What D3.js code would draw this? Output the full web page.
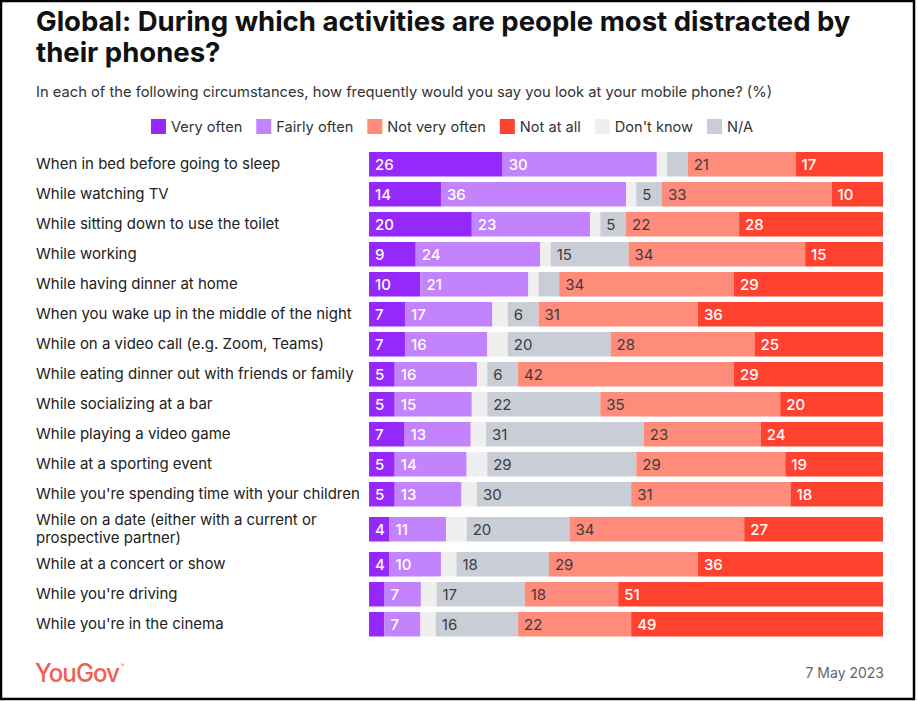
<!DOCTYPE html>
<html>
<head>
<meta charset="utf-8">
<script src="https://cdn.jsdelivr.net/npm/d3@7"></script>
<style>
  html, body { margin: 0; padding: 0; background: #fff; }
  svg { display: block; }
  text { font-family: Inter, "Noto Sans", sans-serif; }
</style>
</head>
<body>
<svg id="chart" width="918" height="701"></svg>
<script>
// ---------------- DATA ----------------
const categories = [
  "When in bed before going to sleep",
  "While watching TV",
  "While sitting down to use the toilet",
  "While working",
  "While having dinner at home",
  "When you wake up in the middle of the night",
  "While on a video call (e.g. Zoom, Teams)",
  "While eating dinner out with friends or family",
  "While socializing at a bar",
  "While playing a video game",
  "While at a sporting event",
  "While you're spending time with your children",
  "While on a date (either with a current or prospective partner)",
  "While at a concert or show",
  "While you're driving",
  "While you're in the cinema"
];
const veryOften    = [26, 14, 20,  9, 10,  7,  7,  5,  5,  7,  5,  5,  4,  4,  3,  3];
const fairlyOften  = [30, 36, 23, 24, 21, 17, 16, 16, 15, 13, 14, 13, 11, 10,  7,  7];
const dontKnow     = [ 2,  2,  2,  2,  2,  3,  4,  2,  3,  3,  4,  3,  4,  3,  3,  3];
const notApplicable= [ 4,  5,  5, 15,  4,  6, 20,  6, 22, 31, 29, 30, 20, 18, 17, 16];
const notVeryOften = [21, 33, 22, 34, 34, 31, 28, 42, 35, 23, 29, 31, 34, 29, 18, 22];
const notAtAll     = [17, 10, 28, 15, 29, 36, 25, 29, 20, 24, 19, 18, 27, 36, 51, 49];

const seriesKeys   = ["Very often", "Fairly often", "Don't know", "N/A", "Not very often", "Not at all"];
const legendOrder  = ["Very often", "Fairly often", "Not very often", "Not at all", "Don't know", "N/A"];
const seriesColors = ["#9528fb", "#c383fd", "#efefef", "#c9cdd6", "#ff8b7b", "#ff4230"];
const labelColors  = ["#ffffff", "#ffffff", "#444444", "#3d3d3d", "#3d3d3d", "#ffffff"];
const labelMin     = [4, 4, 101, 5, 4, 4];

const titleLines = ["Global: During which activities are people most distracted by", "their phones?"];
const subtitle = "In each of the following circumstances, how frequently would you say you look at your mobile phone? (%)";
const dateText = "7 May 2023";

// ---------------- BUILD ----------------
const svg = d3.select("#chart");
const W = 918, H = 701;

svg.append("rect").attr("x", 0).attr("y", 0).attr("width", W).attr("height", H).attr("fill", "#fff");

// Title (fit to target width)
const title = svg.append("g");
const t1 = title.append("text").attr("x", 36).attr("y", 31)
  .attr("font-weight", 700).attr("font-size", 26).attr("fill", "#111").text(titleLines[0]);
let w1 = t1.node().getComputedTextLength();
const tSize = 26 * 815 / w1;
t1.attr("font-size", tSize);
title.append("text").attr("x", 36).attr("y", 62)
  .attr("font-weight", 700).attr("font-size", tSize).attr("fill", "#111").text(titleLines[1]);

// Subtitle
const st = svg.append("text").attr("x", 36).attr("y", 97)
  .attr("font-size", 14.5).attr("fill", "#333").text(subtitle);
const sw = st.node().getComputedTextLength();
st.attr("font-size", 14.5 * 737 / sw);

// Legend
const legend = svg.append("g");
let lx = 151;
legendOrder.forEach(k => {
  const i = seriesKeys.indexOf(k);
  legend.append("rect").attr("x", lx).attr("y", 119).attr("width", 15).attr("height", 15)
    .attr("fill", seriesColors[i]);
  const tt = legend.append("text").attr("x", lx + 20).attr("y", 131.5)
    .attr("font-size", 14.6).attr("fill", "#333").text(k);
  lx += 20 + tt.node().getComputedTextLength() + 14;
});

// Data table
const rows = categories.map((c, i) => ({
  category: c,
  "Very often": veryOften[i],
  "Fairly often": fairlyOften[i],
  "Don't know": dontKnow[i],
  "N/A": notApplicable[i],
  "Not very often": notVeryOften[i],
  "Not at all": notAtAll[i]
}));

const stack = d3.stack().keys(seriesKeys).offset(d3.stackOffsetExpand);
const stacked = stack(rows);

const x = d3.scaleLinear().domain([0, 1]).range([369, 883]);
const color = d3.scaleOrdinal().domain(seriesKeys).range(seriesColors);

// Category labels with wrapping, compute band heights
const labelG = svg.append("g");
const labelFont = 15;
const maxLabelW = 325;
const measure = labelG.append("text").attr("font-size", labelFont);
function wrap(str) {
  const words = str.split(" ");
  const lines = [];
  let cur = "";
  words.forEach(w => {
    const test = cur ? cur + " " + w : w;
    measure.text(test);
    if (measure.node().getComputedTextLength() > maxLabelW && cur) {
      lines.push(cur); cur = w;
    } else cur = test;
  });
  if (cur) lines.push(cur);
  return lines;
}
const wrapped = categories.map(wrap);
measure.remove();

const bandTop = [];
let yy = 149.25;
wrapped.forEach(lines => {
  bandTop.push(yy);
  yy += lines.length > 1 ? 40 : 30;
});
const bandH = wrapped.map(l => l.length > 1 ? 40 : 30);
const barH = 24.5;
const barY = i => bandTop[i] + (bandH[i] - barH) / 2;

wrapped.forEach((lines, i) => {
  const cy = bandTop[i] + bandH[i] / 2;
  const lh = 17.5;
  const t = labelG.append("text").attr("x", 36).attr("font-size", labelFont).attr("fill", "#222");
  lines.forEach((ln, j) => {
    t.append("tspan").attr("x", 36)
      .attr("y", cy + 4.5 - (lines.length - 1) * lh / 2 + j * lh)
      .text(ln);
  });
});

// Bars
const barsG = svg.append("g");
stacked.forEach((layer, si) => {
  const g = barsG.append("g").attr("fill", color(layer.key));
  g.selectAll("rect").data(layer).join("rect")
    .attr("x", d => x(d[0]))
    .attr("width", d => x(d[1]) - x(d[0]))
    .attr("y", (d, i) => barY(i))
    .attr("height", barH);
  g.selectAll("text").data(layer).join("text")
    .filter(d => d.data[layer.key] >= labelMin[si])
    .each(function(d) {
      const i = rows.indexOf(d.data);
      d3.select(this).attr("y", barY(i) + barH / 2 + 5.5);
    })
    .attr("x", d => x(d[0]) + 6)
    .attr("font-size", 15)
    .attr("font-weight", labelColors[si] === "#ffffff" ? 500 : 400)
    .attr("fill", labelColors[si])
    .text(d => d.data[layer.key]);
});

// Footer
const logo = svg.append("text").attr("x", 35).attr("y", 681.5)
  .attr("font-size", 25).attr("font-weight", 500).attr("fill", "#f0604c")
  .attr("font-family", "Roboto, 'Noto Sans', sans-serif")
  .attr("letter-spacing", -1).text("YouGov");
logo.attr("textLength", 84).attr("lengthAdjust", "spacingAndGlyphs");
svg.append("text").attr("x", 121).attr("y", 667).attr("font-size", 5).attr("fill", "#f0604c").text("®");

svg.append("text").attr("x", 884).attr("y", 678).attr("text-anchor", "end")
  .attr("font-size", 14).attr("fill", "#666").text(dateText);

// Border
svg.append("rect").attr("x", 1).attr("y", 1).attr("width", W - 5).attr("height", H - 3)
  .attr("fill", "none").attr("stroke", "#000").attr("stroke-width", 2.5);
</script>
</body>
</html>
